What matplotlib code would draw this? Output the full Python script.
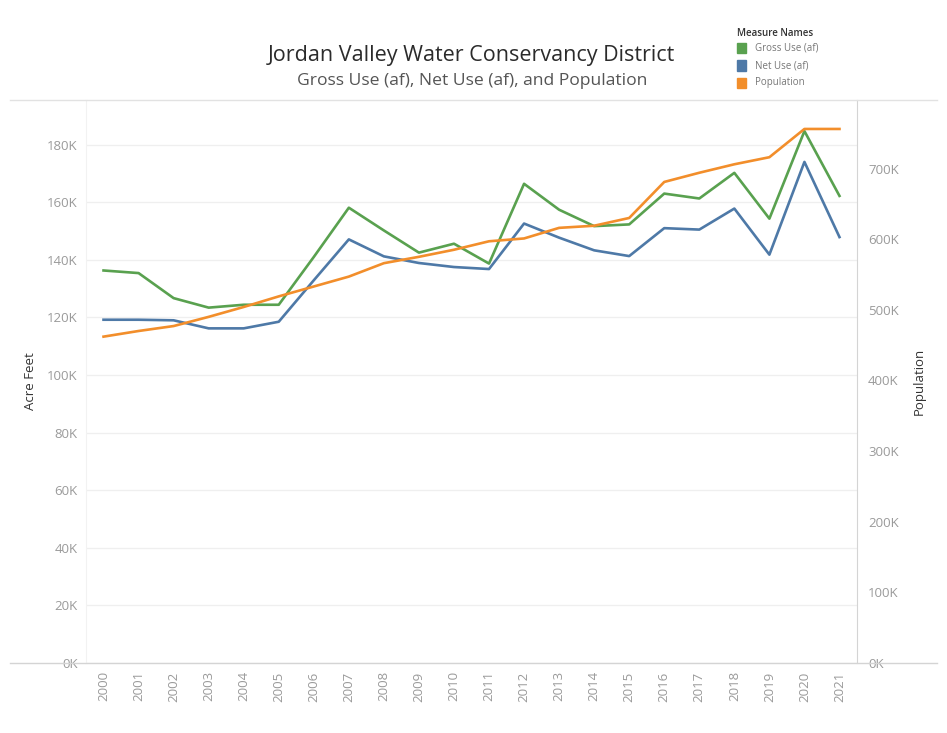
import matplotlib.pyplot as plt
from matplotlib.lines import Line2D
from matplotlib.patches import Rectangle
from matplotlib.ticker import FuncFormatter, MultipleLocator

plt.rcParams["font.family"] = ["Open Sans", "DejaVu Sans"]

years = list(range(2000, 2022))
gross_use = [136.3, 135.4, 126.7, 123.4, 124.4, 124.4, 141.0, 158.1, 150.2, 142.5, 145.6,
             138.7, 166.4, 157.4, 151.7, 152.3, 163.0, 161.3, 170.2, 154.3, 184.7, 162.2]
net_use = [119.2, 119.2, 119.0, 116.2, 116.2, 118.5, 132.9, 147.1, 141.2, 138.9, 137.5,
           136.8, 152.6, 147.7, 143.3, 141.3, 151.0, 150.5, 157.8, 141.8, 174.0, 147.9]
population = [462, 470, 477, 490, 504, 519, 533, 547, 566, 575, 585,
              597, 601, 616, 619, 630, 681, 694, 706, 716, 756, 756]

GREEN = "#59A14F"
BLUE = "#4E79A7"
ORANGE = "#F28E2B"
TICK_GRAY = "#9a9a9a"

fig = plt.figure(figsize=(9.47, 7.33), dpi=100)
ax = fig.add_axes([86 / 947, 1 - 663 / 733, (857 - 86) / 947, (663 - 100) / 733])
ax2 = ax.twinx()

ax.plot(years, [v * 1000 for v in gross_use], color=GREEN, lw=1.9, zorder=3)
ax.plot(years, [v * 1000 for v in net_use], color=BLUE, lw=1.9, zorder=3)
ax2.plot(years, [v * 1000 for v in population], color=ORANGE, lw=1.9, zorder=4)

ax.set_xlim(2000 - 0.5, 2021 + 0.5)
ax.set_ylim(0, 195500)
ax2.set_ylim(0, 797000)
ax.yaxis.set_major_locator(MultipleLocator(20000))
ax2.yaxis.set_major_locator(MultipleLocator(100000))
kfmt = FuncFormatter(lambda v, p: f"{int(round(v / 1000))}K")
ax.yaxis.set_major_formatter(kfmt)
ax2.yaxis.set_major_formatter(kfmt)

ax.set_xticks(years)
ax.set_xticklabels([str(y) for y in years], rotation=90, fontsize=9.5, color=TICK_GRAY)
ax.tick_params(axis="x", length=0, pad=6)
ax.tick_params(axis="y", length=0, pad=6, labelsize=9.5, labelcolor=TICK_GRAY)
ax2.tick_params(axis="y", length=0, pad=8, labelsize=9.5, labelcolor=TICK_GRAY)

ax.grid(axis="y", color="#efefef", lw=0.9)
ax.set_axisbelow(True)
for a in (ax, ax2):
    for side in ("top", "bottom", "left", "right"):
        a.spines[side].set_visible(False)
ax.spines["left"].set_visible(True)
ax.spines["left"].set_color("#f2f2f2")
ax2.spines["right"].set_visible(True)
ax2.spines["right"].set_color("#d4d4d4")

ax.set_ylabel("Acre Feet", fontsize=9.5, color="#333333", labelpad=7)
ax2.set_ylabel("Population", fontsize=9.5, color="#333333", labelpad=10)

# full-width pane borders
fig.add_artist(Line2D([10 / 947, 937 / 947], [1 - 100 / 733] * 2, color="#e2e2e2", lw=1.0))
fig.add_artist(Line2D([10 / 947, 937 / 947], [1 - 663 / 733] * 2, color="#d4d4d4", lw=1.0))

fig.text(471 / 947, 1 - 56 / 733, "Jordan Valley Water Conservancy District",
         ha="center", va="center", fontsize=15.5, color="#2b2b2b")
fig.text(472 / 947, 1 - 81 / 733, "Gross Use (af), Net Use (af), and Population",
         ha="center", va="center", fontsize=12.6, color="#555555")

# legend
fig.text(737 / 947, 1 - 33 / 733, "Measure Names", ha="left", va="center",
         fontsize=7, color="#333333", fontweight="semibold")
legend_items = [("Gross Use (af)", GREEN), ("Net Use (af)", BLUE), ("Population", ORANGE)]
for i, (name, col) in enumerate(legend_items):
    yc = 48 + i * 17.5
    fig.add_artist(Rectangle((737 / 947, 1 - (yc + 5) / 733), 9 / 947, 10 / 733,
                             transform=fig.transFigure, color=col))
    fig.text(755 / 947, 1 - yc / 733, name, ha="left", va="center",
             fontsize=7, color="#777777")

fig.savefig("out.png", dpi=100)
plt.close(fig)
